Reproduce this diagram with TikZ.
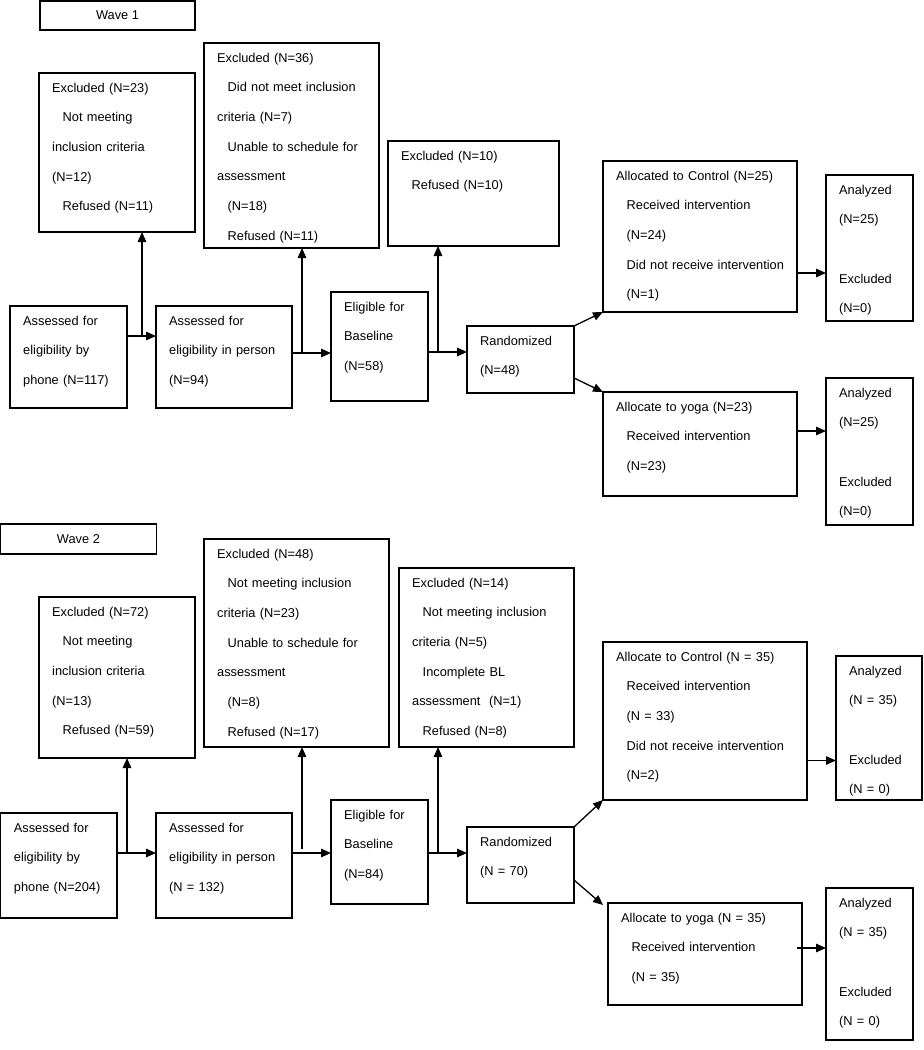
\documentclass[tikz,border=0pt]{standalone}
\usepackage{fontspec}
\setmainfont{Liberation Sans}
\usetikzlibrary{arrows.meta}
\newcommand\ind{\hspace*{10.5pt}}
\newcommand\flowbox[6]{%
  \node[boxs, minimum width={#4-#2}, minimum height={#5-#3}, anchor=north west] (#1) at (#2,#3) {};
  \node[txt, anchor=base west] at ([shift={(13,19)}]#1.north west) {#6};}
\begin{document}
\begin{tikzpicture}[x=1pt,y=-1pt,
  boxs/.style={draw, line width=1.3pt, inner sep=0pt, outer sep=0pt},
  txt/.style={inner sep=0pt, text width=300pt, align=left, font=\fontsize{12.8}{29.7}\selectfont},
  wavebox/.style={boxs, anchor=north west, font=\fontsize{12.8}{15}\selectfont},
  arr/.style={line width=1.3pt, -{Triangle[length=10pt,width=8.5pt]}},
  ln/.style={line width=1.3pt}]
\useasboundingbox (0,0) rectangle (924,1050);

% ---------------- Wave 1 ----------------
\node[wavebox, minimum width=155, minimum height=29] (wave1) at (40,1) {Wave 1};
\flowbox{ex23}{39}{73}{195}{232}{Excluded (N=23)\\\ind Not meeting\\inclusion criteria\\(N=12)\\\ind Refused (N=11)}
\flowbox{ex36}{204}{43}{379}{248}{Excluded (N=36)\\\ind Did not meet inclusion\\criteria (N=7)\\\ind Unable to schedule for\\assessment\\\ind (N=18)\\\ind Refused (N=11)}
\flowbox{ex10}{388}{141}{559}{246}{Excluded (N=10)\\\ind Refused (N=10)}
\flowbox{ctl1}{603}{161}{797}{312}{Allocated to Control (N=25)\\\ind Received intervention\\\ind (N=24)\\\ind Did not receive intervention\\\ind (N=1)}
\flowbox{an1a}{826}{175}{913}{321}{Analyzed\\(N=25)\\[29.7pt]Excluded\\(N=0)}
\flowbox{phone1}{10}{306}{127}{408}{Assessed for\\eligibility by\\phone (N=117)}
\flowbox{person1}{156}{306}{292}{408}{Assessed for\\eligibility in person\\(N=94)}
\flowbox{elig1}{331}{292}{428}{401}{Eligible for\\Baseline\\(N=58)}
\flowbox{rand1}{467}{326}{574}{393}{Randomized\\(N=48)}
\flowbox{yoga1}{603}{392}{797}{496}{Allocate to yoga (N=23)\\\ind Received intervention\\\ind (N=23)}
\flowbox{an1b}{826}{378}{913}{525}{Analyzed\\(N=25)\\[29.7pt]Excluded\\(N=0)}

\draw[ln] ([yshift=21pt]phone1.east) coordinate (a1) -- ++(15,0) coordinate (j1);
\draw[arr] (a1) -- (a1 -| person1.west);
\draw[arr] (j1) -- (j1 |- ex23.south);
\draw[ln] ([yshift=4pt]person1.east) coordinate (a2) -- ++(10,0) coordinate (j2);
\draw[arr] (a2) -- (a2 -| elig1.west);
\draw[arr] (j2) -- (j2 |- ex36.south);
\draw[ln] ([yshift=-5.5pt]elig1.east) coordinate (a3) -- ++(10,0) coordinate (j3);
\draw[arr] (a3) -- (a3 -| rand1.west);
\draw[arr] (j3) -- (j3 |- ex10.south);
\draw[arr] (rand1.north east) -- (ctl1.south west);
\draw[arr] ([yshift=-18.5pt]rand1.east) -- (yoga1.north west);
\draw[arr] ([yshift=-36.5pt]ctl1.east) coordinate (c1) -- (c1 -| an1a.west);
\draw[arr] ([yshift=13pt]yoga1.east) coordinate (c2) -- (c2 -| an1b.west);

% ---------------- Wave 2 ----------------
\node[wavebox, minimum width=155.5, minimum height=30] (wave2) at (0.7,524) {Wave 2};
\flowbox{ex72}{39}{597}{195}{758}{Excluded (N=72)\\\ind Not meeting\\inclusion criteria\\(N=13)\\\ind Refused (N=59)}
\flowbox{ex48}{204}{539}{389}{747}{Excluded (N=48)\\\ind Not meeting inclusion\\criteria (N=23)\\\ind Unable to schedule for\\assessment\\\ind (N=8)\\\ind Refused (N=17)}
\flowbox{ex14}{399}{568}{574}{747}{Excluded (N=14)\\\ind Not meeting inclusion\\criteria (N=5)\\\ind Incomplete BL\\assessment\ \ (N=1)\\\ind Refused (N=8)}
\flowbox{ctl2}{603}{642}{807}{800}{Allocate to Control (N = 35)\\\ind Received intervention\\\ind (N = 33)\\\ind Did not receive intervention\\\ind (N=2)}
\flowbox{an2a}{836}{656}{922}{800}{Analyzed\\(N = 35)\\[29.7pt]Excluded\\(N = 0)}
\flowbox{phone2}{0.7}{813}{117}{918}{Assessed for\\eligibility by\\phone (N=204)}
\flowbox{person2}{156}{813}{292}{918}{Assessed for\\eligibility in person\\(N = 132)}
\flowbox{elig2}{331}{800}{428}{904}{Eligible for\\Baseline\\(N=84)}
\flowbox{rand2}{467}{827}{574}{903}{Randomized\\(N = 70)}
\flowbox{yoga2}{608}{903}{802}{1005}{Allocate to yoga (N = 35)\\\ind Received intervention\\\ind (N = 35)}
\flowbox{an2b}{826}{888}{913}{1040}{Analyzed\\(N = 35)\\[29.7pt]Excluded\\(N = 0)}

\draw[ln] ([yshift=12.5pt]phone2.east) coordinate (b1) -- ++(10,0) coordinate (k1);
\draw[arr] (b1) -- (b1 -| person2.west);
\draw[arr] (k1) -- (k1 |- ex72.south);
\draw[ln] ([yshift=12.5pt]person2.east) coordinate (b2) -- ++(10,0) coordinate (k2);
\draw[arr] (b2) -- (b2 -| elig2.west);
\draw[arr] ([yshift=4pt]k2) -- (k2 |- ex48.south);
\draw[ln] ([yshift=-1pt]elig2.east) coordinate (b3) -- ++(10,0) coordinate (k3);
\draw[arr] (b3) -- (b3 -| rand2.west);
\draw[arr] (k3) -- (k3 |- ex14.south);
\draw[arr] (rand2.north east) -- (ctl2.south west);
\draw[arr] ([yshift=-15pt]rand2.east) -- ([xshift=-5pt,yshift=-2pt]yoga2.north west);
\draw[arr] ([yshift=-39.5pt]ctl2.east) coordinate (d1) -- (d1 -| an2a.west);
\draw[arr] ([xshift=-5pt,yshift=6pt]yoga2.east) coordinate (d2) -- (d2 -| an2b.west);
\end{tikzpicture}
\end{document}
